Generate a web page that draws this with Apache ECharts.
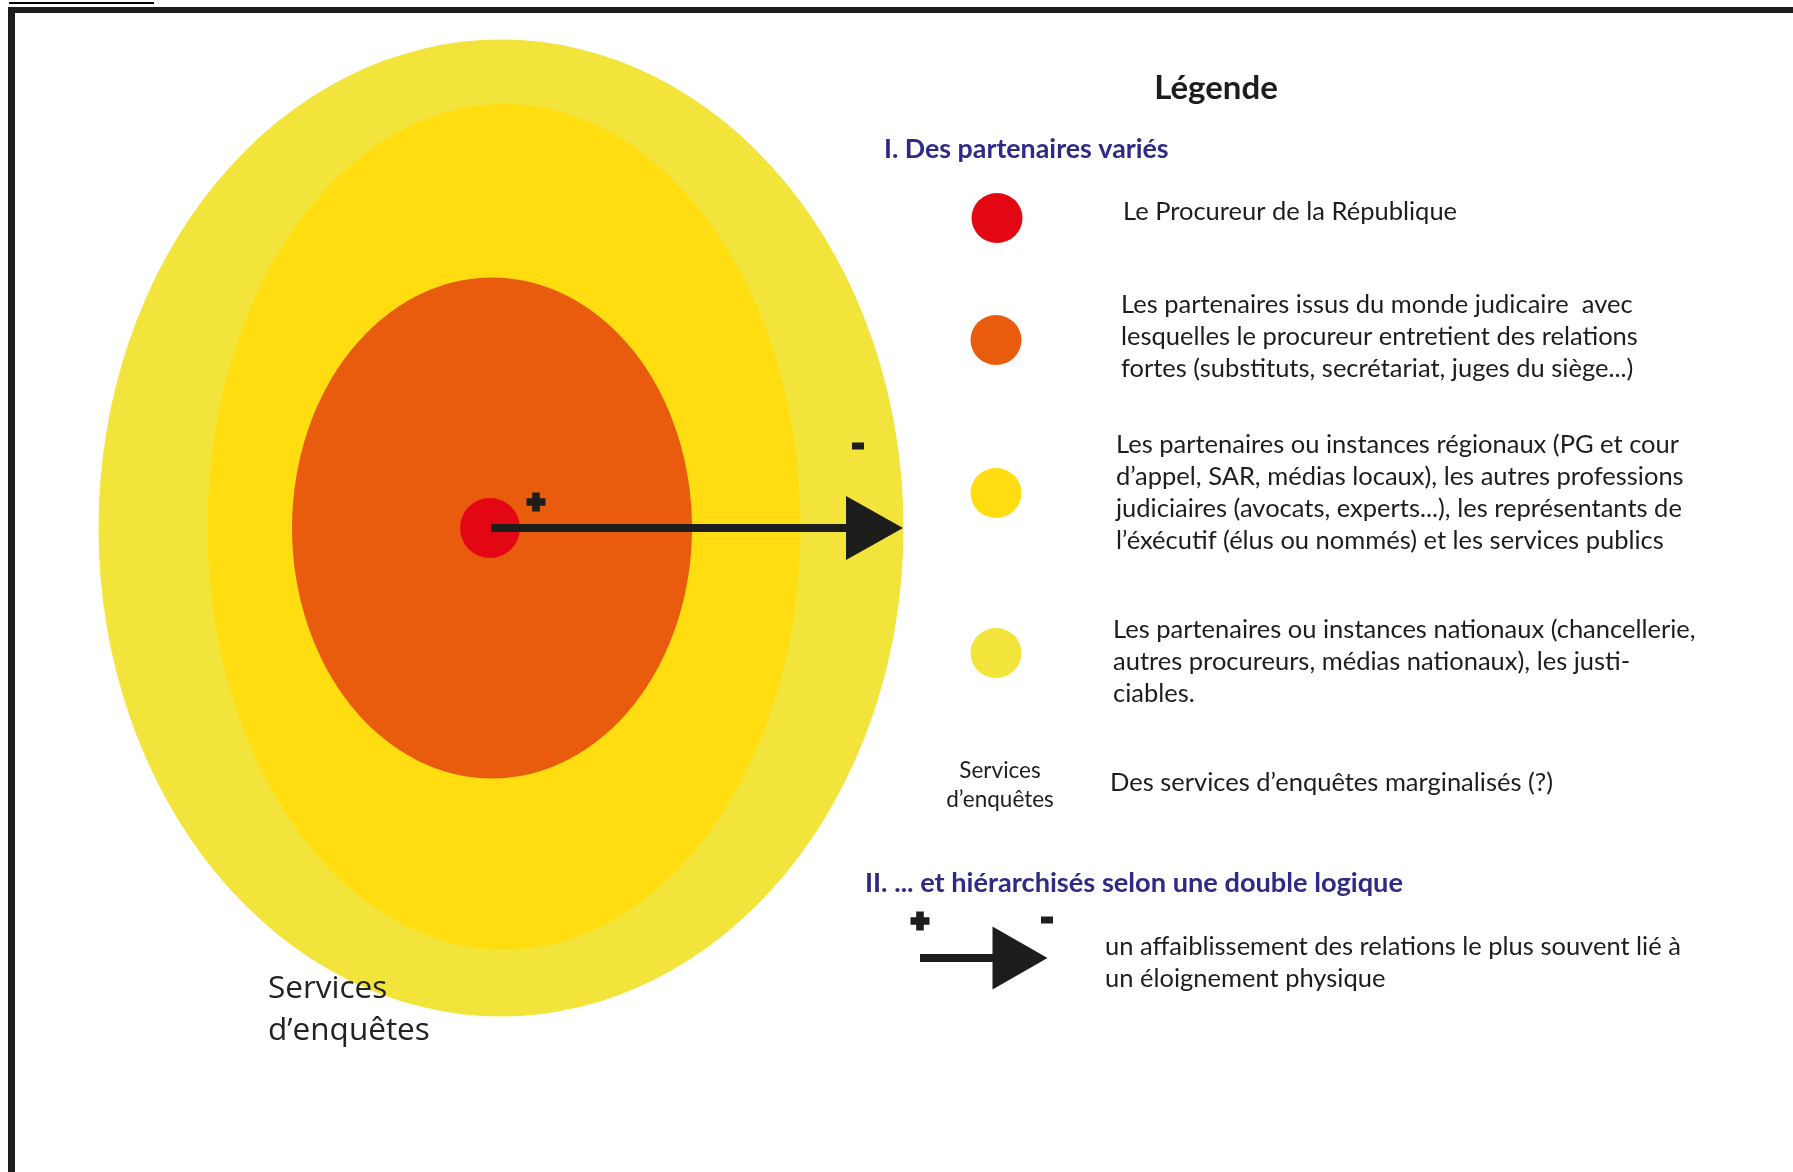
<!DOCTYPE html>
<html lang="fr">
<head>
<meta charset="utf-8">
<title>Légende – partenaires du procureur</title>
<script src="https://cdn.jsdelivr.net/npm/echarts@6.0.0/dist/echarts.min.js"></script>
<style>
  html, body { margin: 0; padding: 0; background: #ffffff; }
  #chart { width: 1793px; height: 1172px; }
</style>
</head>
<body>
<div id="chart"></div>
<script>
// taille du repère (unités = pixels de l'image)
const W = 1793
const H = 1172

// anneaux, du plus large au centre
const ringNames = ['Nationaux', 'Régionaux', 'Monde judiciaire', 'Procureur']
const ringX = [501, 504, 492, 490]
const ringY = [528, 527, 528, 528]
const ringW = [805, 593, 400, 60]
const ringH = [977, 846, 501, 60]
const ringColors = ['#f2e43a', '#ffdd10', '#e95c0e', '#e30613']

// flèche principale (+ vers -)
const arrowStart = [491, 528]
const arrowEnd = [903, 528]

// légende : pastilles et textes
const legendDotX = [997, 996, 996, 996]
const legendDotY = [218, 340, 493, 653]
const legendColors = ['#e30613', '#e95c0e', '#ffdd10', '#f2e43a']
const legendTexts = [
  'Le Procureur de la République',
  'Les partenaires issus du monde judicaire  avec\nlesquelles le procureur entretient des relations\nfortes (substituts, secrétariat, juges du siège...)',
  'Les partenaires ou instances régionaux (PG et cour\nd’appel, SAR, médias locaux), les autres professions\njudiciaires (avocats, experts...), les représentants de\nl’éxécutif (élus ou nommés) et les services publics',
  'Les partenaires ou instances nationaux (chancellerie,\nautres procureurs, médias nationaux), les justi-\nciables.'
]
const legendTextX = [1123, 1121, 1116, 1113]
const legendTextY = [212, 305, 445, 630]

const textColor = '#1d1d1b'
const blue = '#2e2a86'
const fontFamily = 'Lato, "Open Sans", sans-serif'
const lh = 32

const chart = echarts.init(document.getElementById('chart'))

const txt = (x, y, text, font, fill, align, lineHeight) => ({
  type: 'text',
  x: x,
  y: y,
  z: 10,
  silent: true,
  style: {
    text: text,
    font: font,
    fill: fill || textColor,
    align: align || 'left',
    textAlign: align || 'left',
    verticalAlign: 'top',
    textVerticalAlign: 'top',
    lineHeight: lineHeight || lh
  }
})

const plusPath = 'path://M3,0 L7,0 L7,3 L10,3 L10,7 L7,7 L7,10 L3,10 L3,7 L0,7 L0,3 L3,3 Z'
const headPath = 'path://M0,0 L10,5 L0,10 Z'

const option = {
  animation: false,
  grid: { left: 0, right: 0, top: 0, bottom: 0 },
  xAxis: { type: 'value', min: 0, max: W, show: false },
  yAxis: { type: 'value', min: 0, max: H, inverse: true, show: false },
  series: [
    {
      name: 'anneaux',
      type: 'scatter',
      silent: true,
      z: 1,
      symbol: 'circle',
      data: ringNames.map((n, i) => ({
        name: n,
        value: [ringX[i], ringY[i]],
        symbolSize: [ringW[i], ringH[i]],
        itemStyle: { color: ringColors[i], opacity: 1 }
      }))
    },
    {
      name: 'pastilles',
      type: 'scatter',
      silent: true,
      z: 1,
      symbol: 'circle',
      data: legendDotX.map((x, i) => ({
        value: [x, legendDotY[i]],
        symbolSize: [51, 50],
        itemStyle: { color: legendColors[i], opacity: 1 }
      }))
    },
    {
      name: 'tige',
      type: 'line',
      silent: true,
      z: 3,
      symbol: 'none',
      lineStyle: { width: 8, color: textColor },
      data: [arrowStart, [arrowEnd[0] - 57, arrowEnd[1]]]
    },
    {
      name: 'tige légende',
      type: 'line',
      silent: true,
      z: 3,
      symbol: 'none',
      lineStyle: { width: 8, color: textColor },
      data: [[920, 958], [993, 958]]
    },
    {
      name: 'pointes',
      type: 'scatter',
      silent: true,
      z: 3,
      symbol: headPath,
      itemStyle: { color: textColor, opacity: 1 },
      data: [
        { value: [arrowEnd[0] - 28.5, arrowEnd[1]], symbolSize: [57, 64] },
        { value: [1020, 958], symbolSize: [55, 63] }
      ]
    },
    {
      name: 'plus',
      type: 'scatter',
      silent: true,
      z: 3,
      symbol: plusPath,
      symbolSize: [19, 19],
      itemStyle: { color: textColor, opacity: 1 },
      data: [[536, 502], [920, 921]]
    },
    {
      name: 'moins',
      type: 'scatter',
      silent: true,
      z: 3,
      symbol: 'rect',
      symbolSize: [12, 7],
      itemStyle: { color: textColor, opacity: 1 },
      data: [[858, 446], [1047, 920]]
    }
  ],
  graphic: [
    // cadre
    { type: 'rect', z: 10, silent: true, shape: { x: 8, y: 7, width: W - 8, height: 6 }, style: { fill: textColor } },
    { type: 'rect', z: 10, silent: true, shape: { x: 8, y: 7, width: 7, height: H - 7 }, style: { fill: textColor } },
    { type: 'rect', z: 10, silent: true, shape: { x: 9, y: 2, width: 145, height: 2 }, style: { fill: '#000' } },

    txt(1216, 68, 'Légende', 'bold 33px ' + fontFamily, textColor, 'center', 40),
    txt(884, 133, 'I. Des partenaires variés', 'bold 26.8px ' + fontFamily, blue),
    ...legendTexts.map((t, i) => txt(legendTextX[i], legendTextY[i] - lh / 2, t, '25.5px ' + fontFamily)),
    txt(1000, 756, 'Services\nd’enquêtes', '22.5px ' + fontFamily, textColor, 'center', 29),
    txt(1110, 767, 'Des services d’enquêtes marginalisés (?)', '25.5px ' + fontFamily),
    txt(865, 867, 'II. ... et hiérarchisés selon une double logique', 'bold 27.2px ' + fontFamily, blue),
    txt(1105, 931, 'un affaiblissement des relations le plus souvent lié à\nun éloignement physique', '25.5px ' + fontFamily),
    txt(268, 968, 'Services\nd’enquêtes', '31.5px "Open Sans", sans-serif', '#222222', 'left', 42)
  ]
}

chart.setOption(option)
window.addEventListener('resize', () => chart.resize())
</script>
</body>
</html>
